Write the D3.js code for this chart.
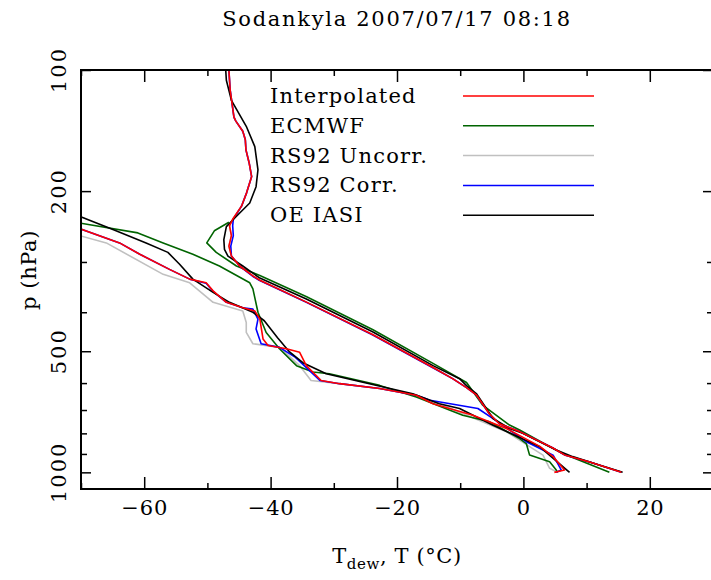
<!DOCTYPE html>
<html><head><meta charset="utf-8">
<script src="https://cdn.jsdelivr.net/npm/d3@7"></script>
<style>body{margin:0;background:#fff} svg{display:block}</style>
</head><body><svg id="c" width="711" height="580"></svg>
<script>
const titleText = "Sodankyla 2007/07/17 08:18";
const seriesNames = ["Interpolated","ECMWF","RS92 Uncorr.","RS92 Corr.","OE IASI"];
const seriesColors = ["#ff0000","#006400","#c0c0c0","#0000ff","#000000"];
const xMajorTicks = [-60,-40,-20,0,20];
const xMinorTicks = [-70,-50,-30,-10,10,30];
const yMajorTicks = [100,200,500,1000];
const yMinorTicks = [300,400,600,700,800,900];

// [pressure hPa, temperature °C]
const interpT = [[100,-46.6],[112,-46.4],[131,-45.8],[134,-45.5],[142,-44.4],[149,-44.0],[158,-43.9],[170,-43.4],[184,-43.0],[202,-43.8],[218,-44.6],[235,-46.0],[244,-46.5],[258,-46.2],[274,-46.6],[290,-46.2],[307,-44.9],[325,-42.8],[333,-41.7],[377,-34.4],[455,-23.8],[549,-14.3],[585,-11.2],[616,-9.0],[643,-7.4],[715,-5.4],[757,-3.8],[792,-0.6],[869,4.6],[905,6.5],[943,10.5],[1000,15.5]];
const ecmwfT = [[239,-46.6],[251,-48.9],[269,-50.1],[284,-48.6],[307,-45.4],[324,-41.7],[366,-34.3],[442,-23.8],[536,-14.3],[598,-9.0],[682,-6.4],[763,-2.2],[785,-0.6],[862,4.1],[898,6.2],[1000,13.6]];
const uncorrT = [[100,-46.6],[112,-46.4],[131,-45.8],[134,-45.5],[142,-44.4],[149,-44.0],[158,-43.9],[170,-43.4],[184,-43.0],[202,-43.8],[218,-44.6],[235,-46.0],[244,-46.5],[258,-46.2],[274,-46.6],[290,-46.2],[307,-44.9],[325,-42.8],[333,-41.7],[377,-34.4],[455,-23.8],[549,-14.3],[585,-11.2],[616,-9.0],[643,-7.4],[715,-5.4],[757,-3.8],[792,-0.6],[869,4.6],[905,6.5],[943,10.5],[1000,15.5]];
const corrT = [[100,-46.6],[112,-46.4],[131,-45.8],[134,-45.5],[142,-44.4],[149,-44.0],[158,-43.9],[170,-43.4],[184,-43.0],[202,-43.8],[218,-44.6],[235,-45.9],[244,-46.0],[258,-45.9],[274,-46.3],[290,-46.2],[307,-44.9],[325,-42.9],[333,-41.8],[377,-34.5],[455,-23.9],[549,-14.4],[585,-11.2],[616,-9.0],[643,-7.4],[715,-5.4],[757,-3.8],[792,-0.6],[869,4.6],[905,6.5],[943,10.5],[1000,15.5]];
const iasiT = [[100,-47.1],[106,-47.0],[119,-46.2],[138,-43.85],[155,-42.5],[177,-42.0],[195,-42.3],[214,-43.3],[231,-45.4],[245,-47.0],[264,-47.4],[279,-47.3],[290,-46.75],[307,-44.4],[329,-41.7],[371,-34.35],[448,-23.8],[543,-14.3],[585,-10.1],[609,-9.0],[637,-7.45],[735,-4.8],[778,-2.2],[800,-0.1],[880,5.2],[914,7.8],[960,12.1],[1000,15.7]];

// [pressure hPa, dew point °C]
const interpTd = [[248,-70.2],[269,-63.9],[287,-60.7],[313,-56.0],[331,-52.8],[338,-50.2],[354,-49.1],[378,-47.0],[390,-44.4],[397,-42.5],[416,-41.7],[466,-41.2],[484,-40.4],[493,-37.5],[503,-35.4],[543,-34.35],[591,-32.0],[602,-29.1],[619,-22.75],[643,-16.95],[675,-14.3],[721,-8.0],[778,-2.7],[862,2.6],[914,4.7],[987,6.5],[1000,4.9]];
const ecmwfTd = [[240,-70.2],[254,-61.0],[269,-57.0],[287,-52.3],[307,-48.1],[338,-43.3],[350,-42.8],[400,-42.0],[449,-40.7],[493,-38.6],[543,-35.9],[563,-33.3],[569,-30.7],[608,-22.75],[650,-16.95],[721,-9.6],[749,-5.35],[824,-0.6],[848,0.46],[906,0.98],[941,4.15],[987,5.2],[1000,5.4]];
const uncorrTd = [[258,-70.2],[269,-66.0],[322,-57.0],[338,-52.8],[378,-49.1],[397,-44.4],[424,-43.85],[449,-43.85],[479,-42.8],[489,-38.6],[543,-35.4],[591,-33.6],[602,-29.1],[619,-22.75],[643,-16.95],[675,-13.3],[793,-2.7],[906,3.1],[977,4.15],[1000,5.4]];
const corrTd = [[248,-70.2],[269,-63.9],[287,-60.7],[313,-56.0],[331,-52.8],[339,-50.2],[355,-49.1],[378,-47.0],[390,-44.4],[393,-42.8],[416,-42.0],[440,-42.3],[479,-41.5],[489,-38.6],[516,-36.2],[550,-34.3],[591,-32.2],[602,-29.1],[619,-22.75],[643,-16.95],[662,-14.8],[694,-7.2],[735,-4.8],[839,0.46],[906,4.7],[987,6.0],[1000,5.2]];
const iasiTd = [[231,-70.2],[249,-64.95],[269,-59.7],[284,-56.25],[304,-54.4],[331,-52.3],[357,-49.1],[378,-46.5],[400,-42.8],[420,-41.0],[463,-38.9],[502,-37.0],[534,-34.9],[569,-31.2],[597,-25.4],[638,-17.5],[675,-13.3],[694,-10.1],[764,-4.8],[864,2.6],[1000,7.3]];

const profiles = [
  {s:2, d:uncorrTd},{s:2, d:uncorrT},
  {s:1, d:ecmwfTd},{s:1, d:ecmwfT},
  {s:3, d:corrTd},{s:3, d:corrT},
  {s:4, d:iasiTd},{s:4, d:iasiT},
  {s:0, d:interpTd},{s:0, d:interpT}
];

const W = 711, H = 580;
const L = 81, R = 713, T = 70, B = 489;
const FONT = "'DejaVu Serif', serif";
const svg = d3.select("#c");
const x = d3.scaleLinear().domain([-70,30]).range([L,R]);
const y = d3.scaleLog().domain([100,1100]).range([T,B]);

svg.append("defs").append("clipPath").attr("id","clip")
  .append("rect").attr("x",L).attr("y",T).attr("width",R-L).attr("height",B-T);

const line = d3.line().x(d=>x(d[1])).y(d=>y(d[0]));
const g = svg.append("g").attr("clip-path","url(#clip)");
profiles.forEach(p=>{
  g.append("path").attr("d",line(p.d)).attr("fill","none")
   .attr("stroke",seriesColors[p.s]).attr("stroke-width",1.6)
   .attr("stroke-linejoin","round");
});

// axes
function styleAxis(sel){ sel.select(".domain").remove(); sel.selectAll("line").attr("stroke","#000").attr("stroke-width",1.5); }
const fmt = v => (v<0?"\u2212":"")+Math.abs(v);
const xb = svg.append("g").attr("transform",`translate(0,${B})`)
  .call(d3.axisBottom(x).tickValues(xMajorTicks).tickSize(-12).tickPadding(11).tickFormat(fmt));
styleAxis(xb);
xb.selectAll("text").attr("font-family",FONT).attr("font-size",21).attr("letter-spacing",0.8).attr("fill","#000");
const xbm = svg.append("g").attr("transform",`translate(0,${B})`)
  .call(d3.axisBottom(x).tickValues(xMinorTicks).tickSize(-6).tickFormat(""));
styleAxis(xbm);
const xt = svg.append("g").attr("transform",`translate(0,${T})`)
  .call(d3.axisTop(x).tickValues(xMajorTicks).tickSize(-12).tickFormat(""));
styleAxis(xt);
const xtm = svg.append("g").attr("transform",`translate(0,${T})`)
  .call(d3.axisTop(x).tickValues(xMinorTicks).tickSize(-6).tickFormat(""));
styleAxis(xtm);

const yl = svg.append("g").attr("transform",`translate(${L},0)`)
  .call(d3.axisLeft(y).tickValues(yMajorTicks).tickSize(-10).tickFormat(""));
styleAxis(yl);
const ylm = svg.append("g").attr("transform",`translate(${L},0)`)
  .call(d3.axisLeft(y).tickValues(yMinorTicks).tickSize(-6).tickFormat(""));
styleAxis(ylm);
const yr = svg.append("g").attr("transform",`translate(${R},0)`)
  .call(d3.axisRight(y).tickValues(yMajorTicks).tickSize(-10).tickFormat(""));
styleAxis(yr);
const yrm = svg.append("g").attr("transform",`translate(${R},0)`)
  .call(d3.axisRight(y).tickValues(yMinorTicks).tickSize(-6).tickFormat(""));
styleAxis(yrm);

// y tick labels rotated
svg.append("g").selectAll("text").data(yMajorTicks).join("text")
  .attr("transform",d=>`translate(66,${y(d)}) rotate(-90)`)
  .attr("text-anchor","middle").attr("font-family",FONT).attr("font-size",21)
  .attr("letter-spacing",2)
  .text(d=>d);

// frame
svg.append("rect").attr("x",L).attr("y",T).attr("width",R-L).attr("height",B-T)
  .attr("fill","none").attr("stroke","#000").attr("stroke-width",2);

// title
svg.append("text").attr("x",397).attr("y",26).attr("text-anchor","middle")
  .attr("font-family",FONT).attr("font-size",21).attr("letter-spacing",1.7).text(titleText);

// axis titles
const xtitle = svg.append("text").attr("x",397).attr("y",563).attr("text-anchor","middle")
  .attr("font-family",FONT).attr("font-size",21).attr("letter-spacing",0.6);
xtitle.append("tspan").text("T");
xtitle.append("tspan").attr("font-size",15).attr("dy",6).text("dew");
xtitle.append("tspan").attr("dy",-6).text(", T (\u00B0C)");
svg.append("text").attr("transform","translate(36,270) rotate(-90)").attr("text-anchor","middle")
  .attr("font-family",FONT).attr("font-size",21).attr("letter-spacing",0.6).text("p (hPa)");

// legend
const leg = svg.append("g");
seriesNames.forEach((n,i)=>{
  const yy = 96 + i*29.8;
  leg.append("text").attr("x",270).attr("y",yy+7).attr("font-family",FONT).attr("font-size",21)
    .attr("letter-spacing",1.2).text(n);
  leg.append("line").attr("x1",463).attr("x2",594).attr("y1",yy).attr("y2",yy)
    .attr("stroke",seriesColors[i]).attr("stroke-width",1.5);
});
</script></body></html>
